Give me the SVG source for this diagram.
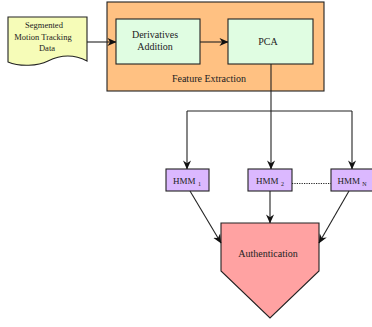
<svg xmlns="http://www.w3.org/2000/svg" width="372" height="327" viewBox="0 0 372 327">
  <defs>
    <marker id="arr" viewBox="0 0 10 10" refX="9.5" refY="5" markerWidth="9" markerHeight="9" markerUnits="userSpaceOnUse" orient="auto">
      <path d="M0,0.5 L10,5 L0,9.5 L3,5 Z" fill="#111"/>
    </marker>
    <style>
      text { font-family: "Liberation Serif", "Times New Roman", serif; fill: #222; text-anchor: middle; }
      .edge { fill: none; stroke: #222; stroke-width: 1.1; }
      .box { stroke: #222; stroke-width: 1.1; }
      .hmm { fill: #dbb8ff; stroke: #222; stroke-width: 1.1; }
      .lbl { font-size: 10px; }
      .small { font-size: 8.5px; }
      .sub { font-size: 6px; }
    </style>
  </defs>

  <!-- feature extraction container -->
  <g id="feature-extraction">
    <rect x="107" y="2" width="217" height="89" fill="#ffc182" class="box"/>
    <text x="209" y="82" class="lbl">Feature Extraction</text>
  </g>

  <g id="data">
    <path d="M8,17 H87 V61 C72,53 58,56 48,61 C38,66 20,67 8,62 Z" fill="#f6fcb8" class="box"/>
    <text x="44" y="28" class="small">Segmented</text>
    <text x="43" y="40" class="small">Motion Tracking</text>
    <text x="47" y="51" class="small">Data</text>
  </g>

  <g id="derivatives">
    <rect x="116" y="19" width="84" height="45" fill="#e0fde2" class="box"/>
    <text x="155" y="38" class="lbl">Derivatives</text>
    <text x="155" y="50" class="lbl">Addition</text>
  </g>

  <g id="pca">
    <rect x="228" y="19" width="85" height="45" fill="#e0fde2" class="box"/>
    <text x="268" y="45" class="lbl">PCA</text>
  </g>

  <g id="hmm1">
    <rect x="166" y="169" width="43" height="22" class="hmm"/>
    <text x="187" y="184" class="lbl" style="font-size:9px">HMM <tspan class="sub" dy="1.5">1</tspan></text>
  </g>

  <g id="hmm2">
    <rect x="248" y="169" width="44" height="22" class="hmm"/>
    <text x="270" y="184" class="lbl" style="font-size:9px">HMM <tspan class="sub" dy="1.5">2</tspan></text>
  </g>

  <g id="hmmN">
    <rect x="331" y="169" width="44" height="22" class="hmm"/>
    <text x="352" y="184" class="lbl" style="font-size:9px">HMM <tspan class="sub" dy="1.5">N</tspan></text>
  </g>

  <g id="authentication">
    <path d="M221,223 H319 V271 L270,318 L221,271 Z" fill="#ffa2a2" class="box"/>
    <text x="268" y="257" class="lbl">Authentication</text>
  </g>

  <g id="connectors">
    <path d="M87,42 H116" class="edge" marker-end="url(#arr)"/>
    <path d="M200,42 H228" class="edge" marker-end="url(#arr)"/>
    <path d="M271,64 V111" class="edge"/>
    <path d="M187,111 H352" class="edge"/>
    <path d="M187,111 V169" class="edge" marker-end="url(#arr)"/>
    <path d="M271,111 V169" class="edge" marker-end="url(#arr)"/>
    <path d="M352,111 V169" class="edge" marker-end="url(#arr)"/>
    <path d="M292,183.5 H331" class="edge" stroke-dasharray="1.2,1.2"/>
    <path d="M190,191 L221,243" class="edge" marker-end="url(#arr)"/>
    <path d="M270,191 V223" class="edge" marker-end="url(#arr)"/>
    <path d="M349,191 L319,243" class="edge" marker-end="url(#arr)"/>
  </g>
</svg>
